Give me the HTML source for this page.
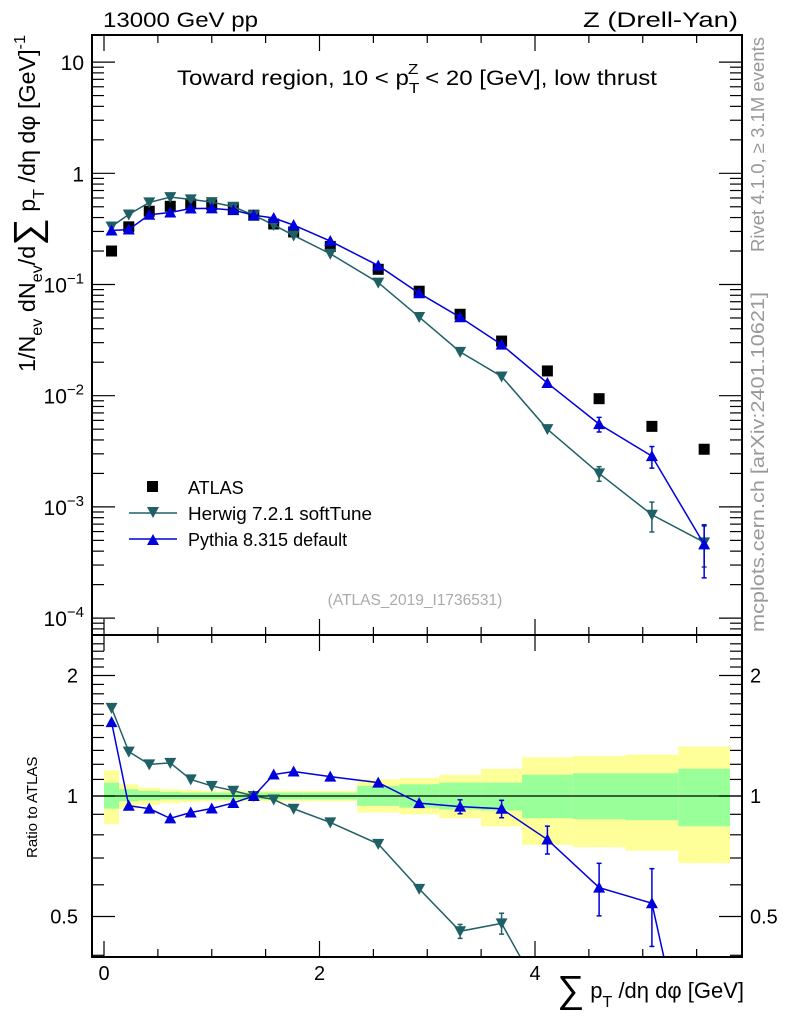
<!DOCTYPE html>
<html><head><meta charset="utf-8"><style>
html,body{margin:0;background:#fff;overflow:hidden;width:786px;height:1024px;}
svg{display:block;font-family:"Liberation Sans",sans-serif;}
</style></head><body>
<svg id="chart" width="786" height="1024" viewBox="0 0 786 1024" xmlns="http://www.w3.org/2000/svg">
<rect x="0" y="0" width="786" height="1024" fill="#fff"/>
<g id="bands"></g>
<g id="marks"></g>
<g id="axes"></g>
<text x="103" y="27" font-size="21" textLength="155" lengthAdjust="spacingAndGlyphs">13000 GeV pp</text>
<text x="583" y="27" font-size="21" textLength="155" lengthAdjust="spacingAndGlyphs">Z (Drell-Yan)</text>
<text x="177" y="85" font-size="21" textLength="480" lengthAdjust="spacingAndGlyphs">Toward region, 10 &lt; p<tspan font-size="15" dy="8">T</tspan><tspan font-size="15" dx="-10" dy="-19">Z</tspan><tspan dy="11"> &lt; 20 [GeV], low thrust</tspan></text>
<text transform="translate(764,252) rotate(-90)" font-size="18" fill="#999" textLength="215" lengthAdjust="spacingAndGlyphs">Rivet 4.1.0, ≥ 3.1M events</text>
<text transform="translate(764,632) rotate(-90)" font-size="18" fill="#999" textLength="340" lengthAdjust="spacingAndGlyphs">mcplots.cern.ch [arXiv:2401.10621]</text>
<text x="415" y="605" font-size="15.5" fill="#aaa" text-anchor="middle">(ATLAS_2019_I1736531)</text>
<text transform="translate(35,372) rotate(-90)" font-size="23" textLength="337" lengthAdjust="spacingAndGlyphs">1/N<tspan font-size="16" dy="7">ev</tspan><tspan dy="-7"> dN</tspan><tspan font-size="16" dy="7">ev</tspan><tspan dy="-7">/d</tspan><tspan font-size="38" dy="5">∑</tspan><tspan dy="-5"> p</tspan><tspan font-size="16" dy="9">T</tspan><tspan dy="-9"> /dη dφ  [GeV]</tspan><tspan font-size="16" dy="-10">-1</tspan></text>
<text transform="translate(37,858) rotate(-90)" font-size="15">Ratio to ATLAS</text>
<text x="744" y="998" font-size="22" text-anchor="end"><tspan font-size="38" dy="4">∑</tspan><tspan dy="-4"> p</tspan><tspan font-size="16" dy="9">T</tspan><tspan dy="-9"> /dη dφ [GeV]</tspan></text>
<g>
<rect x="147" y="481" width="11" height="11" fill="#000"/>
<text x="188" y="494" font-size="18">ATLAS</text>
<line x1="129" y1="513" x2="177" y2="513" stroke="#1f6066" stroke-width="1.5"/>
<path d="M147,507 L159,507 L153,518 Z" fill="#1f6066"/>
<text x="188" y="520" font-size="18" textLength="184" lengthAdjust="spacingAndGlyphs">Herwig 7.2.1 softTune</text>
<line x1="129" y1="539" x2="177" y2="539" stroke="#0000dd" stroke-width="1.5"/>
<path d="M147,545 L159,545 L153,534 Z" fill="#0000dd"/>
<text x="188" y="546" font-size="18">Pythia 8.315 default</text>
</g>
</svg>
<script>
const binEdges=[0,0.14,0.32,0.52,0.71,0.9,1.1,1.3,1.48,1.67,1.85,2.35,2.74,3.11,3.5,3.88,4.35,4.84,5.33,5.81];
const atlas=[0.2,0.33,0.456,0.505,0.53,0.52,0.485,0.42,0.35,0.297,0.22,0.137,0.087,0.054,0.031,0.0167,0.0094,0.0053,0.0033];
const herwig=[0.332,0.426,0.547,0.611,0.583,0.551,0.5,0.42,0.343,0.276,0.189,0.104,0.051,0.0248,0.0149,0.005,0.002,0.00085,0.00048];
const herwigRelErr=[0.01,0.01,0.01,0.01,0.01,0.01,0.01,0.01,0.01,0.01,0.01,0.015,0.02,0.04,0.06,0.08,0.15,0.3,0.4];
const pythia=[0.306,0.312,0.424,0.444,0.482,0.484,0.466,0.42,0.396,0.342,0.246,0.148,0.0835,0.0508,0.0288,0.013,0.00555,0.00286,0.00046];
const pythiaRelErr=[0.01,0.01,0.01,0.01,0.01,0.01,0.01,0.01,0.01,0.01,0.01,0.015,0.02,0.04,0.05,0.08,0.15,0.22,0.5];
const yellowUp=[1.16,1.07,1.05,1.04,1.035,1.03,1.03,1.03,1.03,1.03,1.03,1.10,1.11,1.13,1.17,1.25,1.26,1.27,1.33];
const yellowDn=[0.85,0.93,0.95,0.96,0.965,0.97,0.97,0.97,0.97,0.97,0.97,0.91,0.90,0.88,0.84,0.755,0.745,0.73,0.68];
const greenUp=[1.08,1.04,1.03,1.025,1.02,1.02,1.02,1.02,1.02,1.02,1.02,1.06,1.07,1.08,1.08,1.13,1.14,1.14,1.17];
const greenDn=[0.93,0.97,0.975,0.98,0.98,0.98,0.98,0.98,0.98,0.98,0.98,0.945,0.935,0.925,0.92,0.88,0.875,0.87,0.84];
const xTicks=["0","2","4"];
const mainTickExp=[1,0,-1,-2,-3,-4];
const ratioTicks=["2","1","0.5"];

const NS="http://www.w3.org/2000/svg";
const L=92,R=742,T=35,MB=635,RB=957;
const X=v=>104+v*107.75;
const Y=v=>173.3-Math.log10(v)*111.2;
const YR=v=>796-Math.log2(v)*120.5;
function mk(tag,attrs,parent){const e=document.createElementNS(NS,tag);for(const k in attrs)e.setAttribute(k,attrs[k]);parent.appendChild(e);return e;}
const bands=document.getElementById('bands'),marks=document.getElementById('marks'),axes=document.getElementById('axes');
const clipR=mk('clipPath',{id:'cr'},document.getElementById('chart'));mk('rect',{x:L,y:MB,width:R-L,height:RB-MB},clipR);
const clipM=mk('clipPath',{id:'cm'},document.getElementById('chart'));mk('rect',{x:L,y:T,width:R-L,height:MB-T},clipM);
const centers=atlas.map((_,i)=>(binEdges[i]+binEdges[i+1])/2);
for(let i=0;i<atlas.length;i++){
 const x0=X(binEdges[i]),x1=X(binEdges[i+1]);
 let r=mk('rect',{x:x0,y:YR(yellowUp[i]),width:x1-x0,height:YR(yellowDn[i])-YR(yellowUp[i]),fill:'#ffff99'},bands);
 
 
 let g=mk('rect',{x:x0,y:YR(greenUp[i]),width:x1-x0,height:YR(greenDn[i])-YR(greenUp[i]),fill:'#99ff99'},bands);
 
 
}
mk('line',{x1:L,x2:R,y1:YR(1),y2:YR(1),stroke:'#000','stroke-width':1.2},bands);
atlas.forEach((v,i)=>{const s=mk('rect',{x:X(centers[i])-5.5,y:Y(v)-5.5,width:11,height:11,fill:'#000'},marks);
 
 });
function series(vals,errs,color,down,name){
 const gm=mk('g',{'clip-path':'url(#cm)'},marks);const gr=mk('g',{'clip-path':'url(#cr)'},marks);
 
 
 
 
 const pm=vals.map((v,i)=>X(centers[i])+','+Y(v)).join(' ');
 mk('polyline',{points:pm,fill:'none',stroke:color,'stroke-width':1.5},gm);
 const pr=vals.map((v,i)=>X(centers[i])+','+YR(v/atlas[i])).join(' ');
 mk('polyline',{points:pr,fill:'none',stroke:color,'stroke-width':1.5},gr);
 vals.forEach((v,i)=>{
  const x=X(centers[i]);
  [[gm,Y,v],[gr,YR,v/atlas[i]]].forEach(([g,f,val])=>{
   const y=f(val),yu=f(val*(1+errs[i])),yd=f(val*(1-errs[i]));
   if(y-yu>5){mk('line',{x1:x,x2:x,y1:yu,y2:yd,stroke:color,'stroke-width':1.5},g);
    mk('line',{x1:x-2.5,x2:x+2.5,y1:yu,y2:yu,stroke:color,'stroke-width':1.5},g);
    mk('line',{x1:x-2.5,x2:x+2.5,y1:yd,y2:yd,stroke:color,'stroke-width':1.5},g);}
   const p=down?`M${x-6},${y-5} L${x+6},${y-5} L${x},${y+6} Z`:`M${x-6},${y+5} L${x+6},${y+5} L${x},${y-6} Z`;
   const m=mk('path',{d:p,fill:color},g);
   
   
  });
 });
}
series(herwig,herwigRelErr,'#1f6066',true,'herwig');
series(pythia,pythiaRelErr,'#0000dd',false,'pythia');
mk('rect',{x:L,y:T,width:R-L,height:MB-T,fill:'none',stroke:'#000','stroke-width':2},axes);
mk('rect',{x:L,y:MB,width:R-L,height:RB-MB,fill:'none',stroke:'#000','stroke-width':2},axes);
for(let v=0;v<=5.8;v+=0.5){const x=X(v),len=(Math.abs(v%2)<1e-6)?16:8;
 [T,MB].forEach(y=>mk('line',{x1:x,x2:x,y1:y,y2:y+len,stroke:'#000','stroke-width':1.2},axes));
 [MB,RB].forEach(y=>mk('line',{x1:x,x2:x,y1:y,y2:y-len,stroke:'#000','stroke-width':1.2},axes));}
xTicks.forEach(t=>{const e=mk('text',{x:X(+t),y:980,'font-size':20,'text-anchor':'middle'},axes);e.textContent=t;
 
 });
for(let e=-5;e<=1;e++)for(let m=1;m<10;m++){const v=m*Math.pow(10,e),y=Y(v);if(y<T||y>MB)continue;const len=m==1?23:12;
 mk('line',{x1:L,x2:L+len,y1:y,y2:y,stroke:'#000','stroke-width':1.2},axes);
 mk('line',{x1:R,x2:R-len,y1:y,y2:y,stroke:'#000','stroke-width':1.2},axes);}
mainTickExp.forEach(e=>{const y=Y(Math.pow(10,e))+8;const t=mk('text',{x:84,y:y,'font-size':21,'text-anchor':'end'},axes);
 
 
 if(e==1)t.textContent='10';else if(e==0)t.textContent='1';else{t.textContent='10';const s=mk('tspan',{'font-size':15,dy:-9},t);s.textContent='−'+(-e);}});
const rmin=[0.4,0.5,0.6,0.7,0.8,0.9,1,1.1,1.2,1.3,1.4,1.5,1.6,1.7,1.8,1.9,2,2.1,2.2,2.3,2.4];
rmin.forEach(v=>{const y=YR(v);if(y<MB||y>RB)return;const len=(v==0.5||v==1||v==2)?23:12;
 mk('line',{x1:L,x2:L+len,y1:y,y2:y,stroke:'#000','stroke-width':1.2},axes);
 mk('line',{x1:R,x2:R-len,y1:y,y2:y,stroke:'#000','stroke-width':1.2},axes);});
ratioTicks.forEach(t=>{const y=YR(+t)+7;
 const a=mk('text',{x:78,y:y,'font-size':20,'text-anchor':'end'},axes);a.textContent=t;
 
 
 const b=mk('text',{x:750,y:y,'font-size':20},axes);b.textContent=t;
 
 });
</script>
</body></html>
